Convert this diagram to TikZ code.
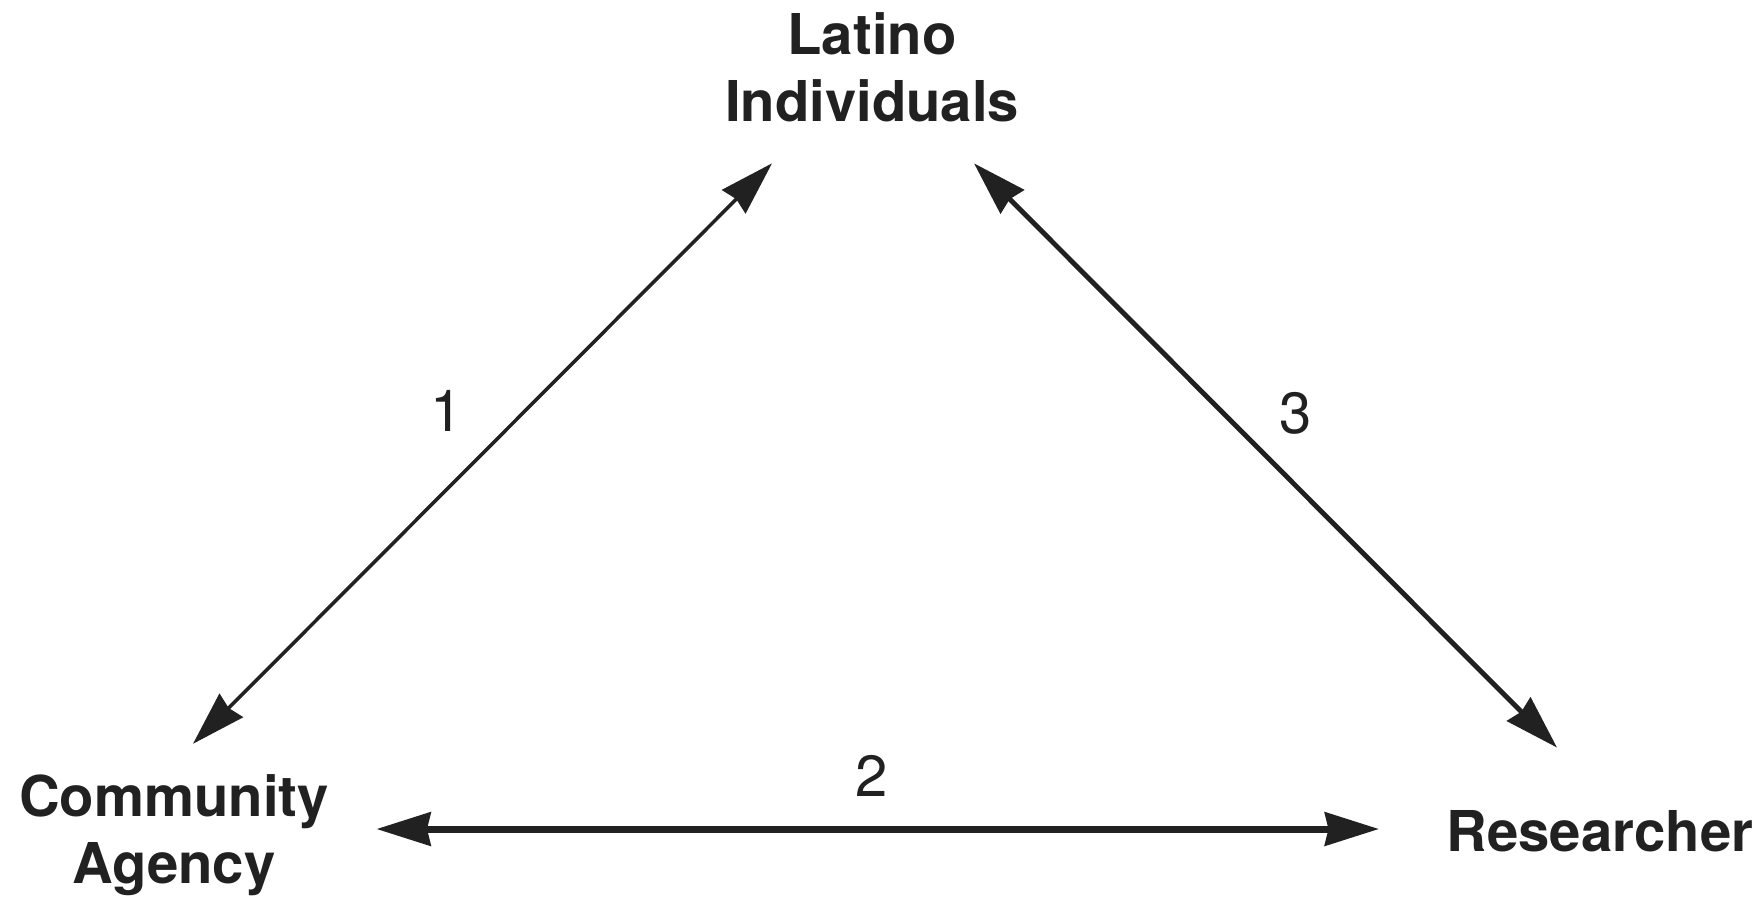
\documentclass[tikz,border=0pt]{standalone}
\usepackage{fontspec}
\setmainfont{TeX Gyre Heros}
\usetikzlibrary{arrows.meta}

\begin{document}
\begin{tikzpicture}[
    x=0.01cm, y=-0.01cm,
    party_style/.style={font=\fontsize{16}{19}\selectfont\bfseries, align=center, inner sep=0pt, text=black!87},
    num_style/.style={font=\fontsize{16.5}{19}\selectfont, inner sep=0pt, text=black!87},
    edge_style/.style={draw=black!87, {Stealth[length=5.4mm,width=3.3mm,inset=0.35mm]}-{Stealth[length=5.4mm,width=3.3mm,inset=0.35mm]}}
]
\useasboundingbox (0,0) rectangle (1764,899);
% the three parties
\node[party_style] (latino) at (872,67) {Latino\\Individuals};
\node[party_style] (agency) at (174,835) {Community\\Agency};
\node[party_style] (researcher) at (1600,831) {Researcher};
% link numbers
\node[num_style] (n1) at (447,411) {1};
\node[num_style] (n2) at (872,776) {2};
\node[num_style] (n3) at (1296,413) {3};
% two-way links
\draw[edge_style, line width=1pt] ([shift={(19,-30)}]agency.north) -- ([shift={(-100,41)}]latino.south);
\draw[edge_style, line width=2pt] ([shift={(47,-6)}]agency.east) -- ([shift={(-67,-2)}]researcher.west);
\draw[edge_style, line width=1.4pt] ([shift={(102,41)}]latino.south) -- ([shift={(-43,-62)}]researcher.north);
\end{tikzpicture}
\end{document}
